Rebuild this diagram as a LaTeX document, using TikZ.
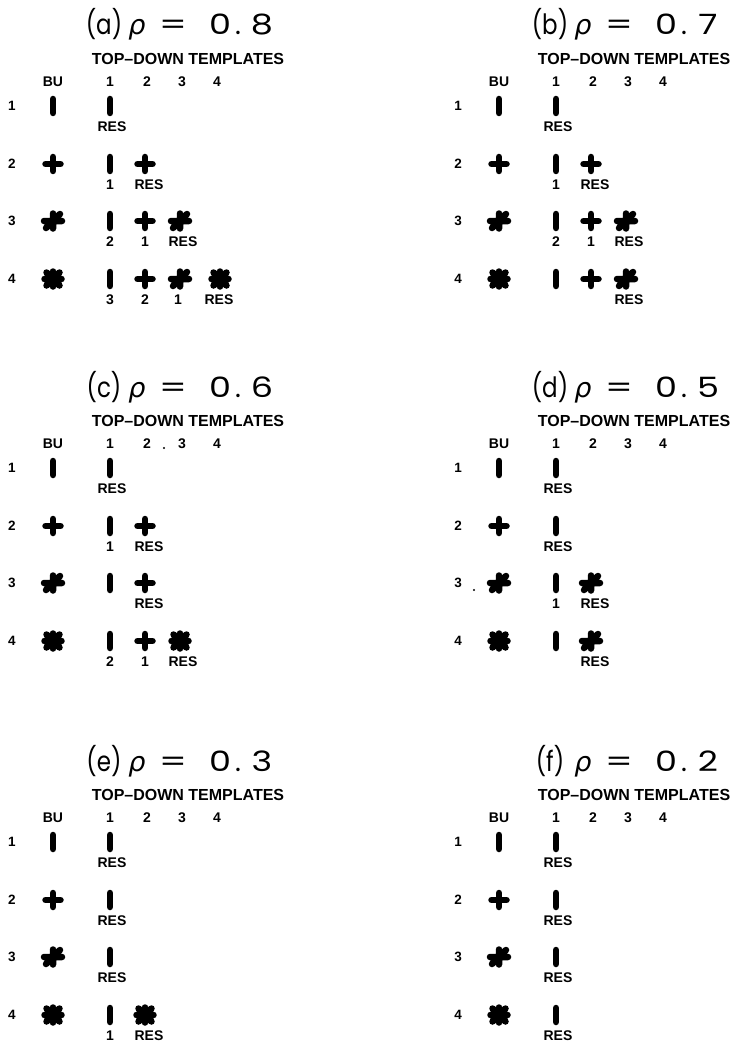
\documentclass[tikz,border=0pt]{standalone}
\usepackage{graphicx}
\usepackage{fontspec}
\setmainfont{Liberation Sans}
\newfontfamily\titlefont{Poppins}
\newfontfamily\greekfont{DejaVu Sans}
\tikzset{
  lab/.style={font=\fontsize{14}{14}\selectfont\bfseries, inner sep=0pt},
  rowlab/.style={font=\fontsize{13.5}{13.5}\selectfont\bfseries, inner sep=0pt},
  hdr/.style={font=\fontsize{16}{16}\selectfont\bfseries, inner sep=0pt},
  ttl/.style={font=\fontsize{28}{28}\selectfont\titlefont, inner sep=0pt, anchor=base},
  sym/.style={line width=6.5pt, line cap=round},
  sbar/.pic={\draw[sym] (0,-7) -- (0,7);},
  splus/.pic={\draw[sym] (0,-7) -- (0,7) (-7.5,0) -- (7.5,0);},
  sthree/.pic={\draw[sym] (0,-7.5) -- (0,7.5) (-9,0) -- (9,0) (-7,7) -- (7,-7);},
  sfour/.pic={\draw[sym] (0,-7.5) -- (0,7.5) (-8.5,0) -- (8.5,0) (-6.5,6.5) -- (6.5,-6.5) (-6.5,-6.5) -- (6.5,6.5);},
}
% panel frame: id, letter, last digit of the value
\newcommand\panelbase[3]{%
  \node[ttl] (#1-lt) at (104,35) {\scalebox{0.82}[1]{(#2)}};
  \node[ttl] (#1-rho) at (137,35) {\greekfont\itshape\fontsize{27}{27}\selectfont ρ};
  \node[ttl] (#1-eq) at (173,35) {\scalebox{1.4}[1]{=}};
  \node[ttl] (#1-v0) at (220,35) {\scalebox{1.25}[1]{0}};
  \node[ttl] (#1-vp) at (238,35) {.};
  \node[ttl] (#1-v1) at (262,35) {\scalebox{1.25}[1]{#3}};
  \node[hdr] (#1-tdt) at (188,59) {TOP–DOWN TEMPLATES};
  \node[lab] (#1-bu) at (53,82) {BU};
  \node[lab] (#1-h1) at (110,82) {1};
  \node[lab] (#1-h2) at (147,82) {2};
  \node[lab] (#1-h3) at (182,82) {3};
  \node[lab] (#1-h4) at (217,82) {4};
  \node[rowlab] (#1-r1) at (12,106) {1};
  \node[rowlab] (#1-r2) at (12,164) {2};
  \node[rowlab] (#1-r3) at (12,221) {3};
  \node[rowlab] (#1-r4) at (12,279) {4};
  \pic at (53,106) {sbar};
  \pic at (53,164) {splus};
  \pic at (53,221) {sthree};
  \pic at (53,279) {sfour};
}
\begin{document}
\begin{tikzpicture}[x=1pt,y=-1pt]
\fill[white] (0,0) rectangle (743,1051);
\useasboundingbox (0,0) rectangle (743,1051);

% ---------- (a)
\begin{scope}
\panelbase{a}{a}{8}
\pic at (110,106) {sbar}; \node[lab] (a-l11) at (112,127) {RES};
\pic at (110,164) {sbar}; \node[lab] (a-l21) at (110,185) {1};
\pic at (145,164) {splus}; \node[lab] (a-l22) at (149,185) {RES};
\pic at (110,221) {sbar}; \node[lab] (a-l31) at (110,242) {2};
\pic at (145,221) {splus}; \node[lab] (a-l32) at (145,242) {1};
\pic at (180,221) {sthree}; \node[lab] (a-l33) at (183,242) {RES};
\pic at (110,279) {sbar}; \node[lab] (a-l41) at (110,300) {3};
\pic at (145,279) {splus}; \node[lab] (a-l42) at (145,300) {2};
\pic at (180,279) {sthree}; \node[lab] (a-l43) at (178,300) {1};
\pic at (220,279) {sfour}; \node[lab] (a-l44) at (219,300) {RES};
\end{scope}

% ---------- (b)
\begin{scope}[shift={(446,0)}]
\panelbase{b}{b}{7}
\pic at (110,106) {sbar}; \node[lab] (b-l11) at (112,127) {RES};
\pic at (110,164) {sbar}; \node[lab] (b-l21) at (110,185) {1};
\pic at (145,164) {splus}; \node[lab] (b-l22) at (149,185) {RES};
\pic at (110,221) {sbar}; \node[lab] (b-l31) at (110,242) {2};
\pic at (145,221) {splus}; \node[lab] (b-l32) at (145,242) {1};
\pic at (180,221) {sthree}; \node[lab] (b-l33) at (183,242) {RES};
\pic at (110,279) {sbar};
\pic at (145,279) {splus};
\pic at (180,279) {sthree}; \node[lab] (b-l43) at (183,300) {RES};
\end{scope}

% ---------- (c)
\begin{scope}[shift={(0,362)}]
\panelbase{c}{c}{6}
\fill (164,86) circle (1.2);
\pic at (110,106) {sbar}; \node[lab] (c-l11) at (112,127) {RES};
\pic at (110,164) {sbar}; \node[lab] (c-l21) at (110,185) {1};
\pic at (145,164) {splus}; \node[lab] (c-l22) at (149,185) {RES};
\pic at (110,221) {sbar};
\pic at (145,221) {splus}; \node[lab] (c-l32) at (149,242) {RES};
\pic at (110,279) {sbar}; \node[lab] (c-l41) at (110,300) {2};
\pic at (145,279) {splus}; \node[lab] (c-l42) at (145,300) {1};
\pic at (180,279) {sfour}; \node[lab] (c-l43) at (183,300) {RES};
\end{scope}

% ---------- (d)
\begin{scope}[shift={(446,362)}]
\panelbase{d}{d}{5}
\fill (28,228) circle (1.2);
\pic at (110,106) {sbar}; \node[lab] (d-l11) at (112,127) {RES};
\pic at (110,164) {sbar}; \node[lab] (d-l21) at (112,185) {RES};
\pic at (110,221) {sbar}; \node[lab] (d-l31) at (110,242) {1};
\pic at (145,221) {sthree}; \node[lab] (d-l32) at (149,242) {RES};
\pic at (110,279) {sbar};
\pic at (145,279) {sthree}; \node[lab] (d-l42) at (149,300) {RES};
\end{scope}

% ---------- (e)
\begin{scope}[shift={(0,736)}]
\panelbase{e}{e}{3}
\pic at (110,106) {sbar}; \node[lab] (e-l11) at (112,127) {RES};
\pic at (110,164) {sbar}; \node[lab] (e-l21) at (112,185) {RES};
\pic at (110,221) {sbar}; \node[lab] (e-l31) at (112,242) {RES};
\pic at (110,279) {sbar}; \node[lab] (e-l41) at (110,300) {1};
\pic at (145,279) {sfour}; \node[lab] (e-l42) at (149,300) {RES};
\end{scope}

% ---------- (f)
\begin{scope}[shift={(446,736)}]
\panelbase{f}{f}{2}
\pic at (110,106) {sbar}; \node[lab] (f-l11) at (112,127) {RES};
\pic at (110,164) {sbar}; \node[lab] (f-l21) at (112,185) {RES};
\pic at (110,221) {sbar}; \node[lab] (f-l31) at (112,242) {RES};
\pic at (110,279) {sbar}; \node[lab] (f-l41) at (112,300) {RES};
\end{scope}
\end{tikzpicture}
\end{document}
